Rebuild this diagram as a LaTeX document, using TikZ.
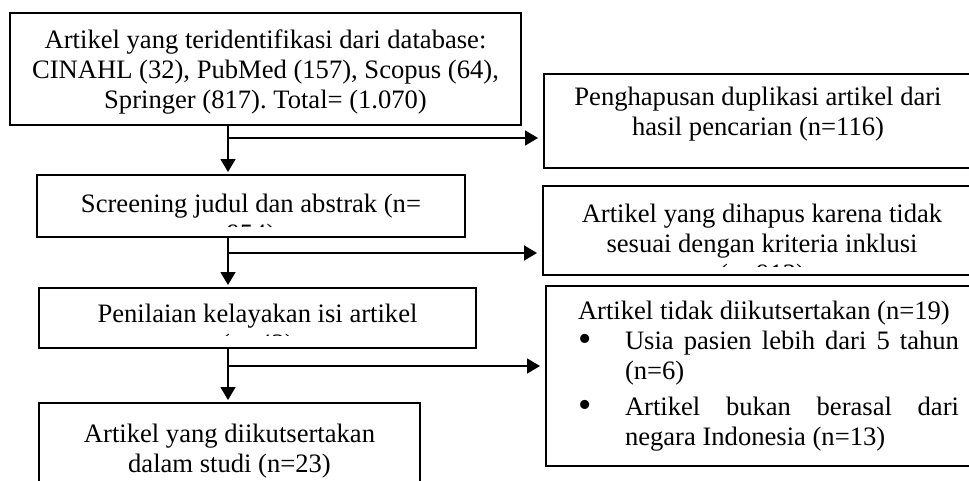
\documentclass[tikz,border=0pt]{standalone}
\usepackage{fontspec}
\setmainfont{Liberation Serif}
\usetikzlibrary{arrows.meta,positioning}

\frenchspacing
\newcommand{\bulitem}[1]{\par\hangindent=23.5pt\hangafter=1\noindent\makebox[23.5pt][l]{\raisebox{-1.2pt}{\fontsize{19}{15}\selectfont\textbullet}}#1\par}

\begin{document}
\begin{tikzpicture}[
  x=0.5pt, y=-0.5pt,
  every node/.style={font=\fontsize{13.3}{15}\selectfont},
  flowbox/.style={
    draw=black,
    line width=1pt,
    anchor=north west,
    inner sep=0pt,
    align=center
  },
  cuttext/.style n args={3}{
    path picture={
      \clip ([yshift=#2]path picture bounding box.south west) rectangle (path picture bounding box.north east);
      \node[draw=none, minimum width=0pt, minimum height=0pt, inner sep=0pt, align=center, anchor=north]
        at ([yshift=-#1]path picture bounding box.north) {#3};
    }
  },
  arrow/.style={-{Triangle[length=6.5pt,width=7.5pt]}, line width=0.75pt, draw=black, shorten >=1pt},
  sidearrow/.style={arrow, shorten >=2.5pt}
]
\useasboundingbox (0,0) rectangle (969,481);
\clip (0,0) rectangle (969,481);

% main column
\node[flowbox, minimum width=255.5pt, minimum height=56pt,
  cuttext={8pt}{0pt}{Artikel yang teridentifikasi dari database:\\CINAHL (32), PubMed (157), Scopus (64),\\Springer (817). Total= (1.070)}] (src) at (9,12) {};
\node[flowbox, minimum width=214pt, minimum height=31pt,
  cuttext={9pt}{5.5pt}{Screening judul dan abstrak (n=\\954)}] (screen) at (36,174) {};
\node[flowbox, minimum width=218.5pt, minimum height=30pt,
  cuttext={7.5pt}{6.5pt}{Penilaian kelayakan isi artikel\\(n=42)}] (assess) at (38,287) {};
\node[flowbox, minimum width=190.5pt, minimum height=50pt,
  cuttext={10pt}{0pt}{Artikel yang diikutsertakan\\dalam studi (n=23)}] (incl) at (38,402) {};

% excluded column
\node[flowbox, minimum width=214pt, minimum height=47pt,
  cuttext={6pt}{0pt}{Penghapusan duplikasi artikel dari\\hasil pencarian (n=116)}] (dup) at (543,73) {};
\node[flowbox, minimum width=219pt, minimum height=44.5pt,
  cuttext={8.5pt}{4.5pt}{Artikel yang dihapus karena tidak\\sesuai dengan kriteria inklusi\\(n=912)}] (removed) at (542,185) {};
\node[flowbox, align=justify, text width=190.5pt, inner xsep=16pt, minimum height=90pt] (excl) at (545,285)
  {Artikel tidak diikutsertakan (n=19)
   \bulitem{Usia pasien lebih dari 5 tahun\linebreak (n=6)}\vspace{3pt}
   \bulitem{Artikel bukan berasal dari\linebreak negara Indonesia (n=13)}};

\coordinate (split1) at (228,138);
\coordinate (split2) at (228,253);
\coordinate (split3) at (228,366);

\draw[arrow] (src.south -| split1) -- (screen.north -| split1);
\draw[arrow] (screen.south -| split2) -- (assess.north -| split2);
\draw[arrow] (assess.south -| split3) -- (incl.north -| split3);
\draw[sidearrow] (split1) -- (split1 -| dup.west);
\draw[sidearrow] (split2) -- (split2 -| removed.west);
\draw[sidearrow] (split3) -- (split3 -| excl.west);
\end{tikzpicture}
\end{document}
